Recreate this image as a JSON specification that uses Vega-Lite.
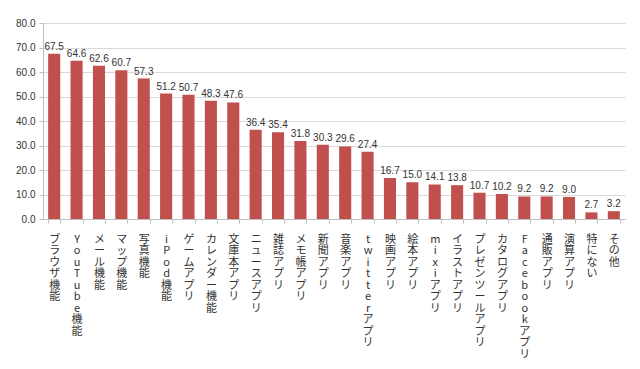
{
  "$schema": "https://vega.github.io/schema/vega-lite/v6.json",
  "width": 582,
  "height": 196,
  "autosize": {"type": "none"},
  "padding": {"left": 43, "top": 23, "right": 15, "bottom": 150},
  "background": "white",
  "config": {
    "view": {"stroke": null},
    "font": "Noto Sans CJK JP",
    "axis": {"labelFont": "Noto Sans CJK JP", "labelColor": "#333333", "titleFont": "Noto Sans CJK JP"}
  },
  "data": {
    "values": [
      {"item": "ブラウザ機能", "value": 67.5},
      {"item": "YouTube機能", "value": 64.6},
      {"item": "メール機能", "value": 62.6},
      {"item": "マップ機能", "value": 60.7},
      {"item": "写真機能", "value": 57.3},
      {"item": "iPod機能", "value": 51.2},
      {"item": "ゲームアプリ", "value": 50.7},
      {"item": "カレンダー機能", "value": 48.3},
      {"item": "文庫本アプリ", "value": 47.6},
      {"item": "ニュースアプリ", "value": 36.4},
      {"item": "雑誌アプリ", "value": 35.4},
      {"item": "メモ帳アプリ", "value": 31.8},
      {"item": "新聞アプリ", "value": 30.3},
      {"item": "音楽アプリ", "value": 29.6},
      {"item": "twitterアプリ", "value": 27.4},
      {"item": "映画アプリ", "value": 16.7},
      {"item": "絵本アプリ", "value": 15.0},
      {"item": "mixiアプリ", "value": 14.1},
      {"item": "イラストアプリ", "value": 13.8},
      {"item": "プレゼンツールアプリ", "value": 10.7},
      {"item": "カタログアプリ", "value": 10.2},
      {"item": "Facebookアプリ", "value": 9.2},
      {"item": "通販アプリ", "value": 9.2},
      {"item": "演算アプリ", "value": 9.0},
      {"item": "特にない", "value": 2.7},
      {"item": "その他", "value": 3.2}
    ]
  },
  "encoding": {
    "x": {
      "field": "item",
      "type": "nominal",
      "sort": null,
      "scale": {"paddingInner": 0.46, "paddingOuter": 0.23},
      "axis": {
        "title": null,
        "labelAngle": 0,
        "labelAlign": "center",
        "labelBaseline": "top",
        "labelExpr": "split(datum.label, '')",
        "labelLineHeight": 11.5,
        "labelFontSize": 11,
        "labelPadding": 10,
        "labelOverlap": false,
        "labelLimit": 0,
        "labelBound": false,
        "tickBand": "extent",
        "tickSize": 4,
        "tickColor": "#bfbfbf",
        "domainColor": "#bfbfbf",
        "grid": false
      }
    },
    "y": {
      "field": "value",
      "type": "quantitative",
      "scale": {"domain": [0, 80], "nice": false},
      "axis": {
        "title": null,
        "values": [0, 10, 20, 30, 40, 50, 60, 70, 80],
        "format": ".1f",
        "labelFontSize": 10,
        "labelFont": "Liberation Sans",
        "labelPadding": 4,
        "tickSize": 4,
        "tickColor": "#bfbfbf",
        "domainColor": "#bfbfbf",
        "gridColor": "#d9d9d9"
      }
    }
  },
  "layer": [
    {"mark": {"type": "bar", "color": "#c0504d"}},
    {
      "mark": {"type": "text", "dy": -7, "fontSize": 10, "color": "#333333", "font": "Liberation Sans"},
      "encoding": {"text": {"field": "value", "type": "quantitative", "format": ".1f"}}
    }
  ]
}
